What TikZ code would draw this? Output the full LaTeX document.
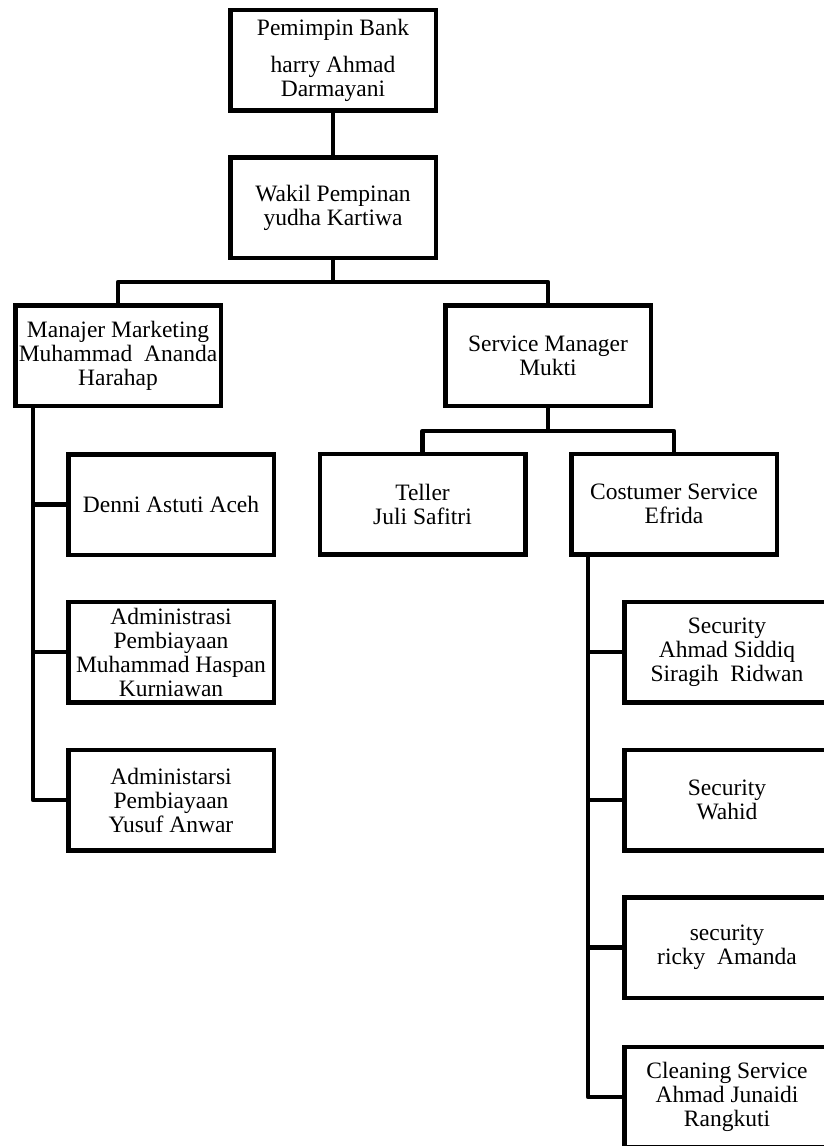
\documentclass[tikz,border=0pt]{standalone}
\usepackage{fontspec}
\setmainfont{Liberation Serif}
\usepackage{tikz}
\tikzset{
  every node/.style={
    text=black
  },
  jabatan/.style={
    draw, line width=4.5pt, rectangle, align=center,
    minimum width=205.5pt, minimum height=100.5pt, inner sep=2pt,
    font=\fontsize{23.5}{24}\selectfont
  },
  garis/.style={
    line width=4.5pt, line join=round
  }
}

\begin{document}
\begin{tikzpicture}[x=1pt, y=-1pt]
    \useasboundingbox (0,0) rectangle (824,1146);
    \clip (0,0) rectangle (824,1146);

    % top of the tree
    \node[jabatan] (pimpinan) at (333,60) {Pemimpin Bank\\[13pt]harry Ahmad\\Darmayani};
    \node[jabatan] (wakil) at (333,207.5) {Wakil Pempinan\\yudha Kartiwa};

    \node[jabatan] (marketing) at (118,355.5) {Manajer Marketing\\Muhammad\ \ Ananda\\Harahap};
    \node[jabatan] (servmgr) at (548,355.5) {Service Manager\\Mukti};

    \node[jabatan] (teller) at (422.5,504) {Teller\\Juli Safitri};
    \node[jabatan] (costumer) at (674,504) {Costumer Service\\Efrida};

    % marketing staff
    \node[jabatan] (denni) at (171,504.5) {Denni Astuti Aceh};
    \node[jabatan] (admin1) at (171,652) {Administrasi\\Pembiayaan\\Muhammad Haspan\\Kurniawan};
    \node[jabatan] (admin2) at (171,800) {Administarsi\\Pembiayaan\\Yusuf Anwar};

    % service staff
    \node[jabatan] (security1) at (727,652) {Security\\Ahmad Siddiq\\Siragih\ \ Ridwan};
    \node[jabatan] (security2) at (727,800) {Security\\Wahid};
    \node[jabatan] (security3) at (727,947.5) {security\\ricky\ \ Amanda};
    \node[jabatan] (cleaning) at (727,1097) {Cleaning Service\\Ahmad Junaidi\\Rangkuti};

    \draw [garis] (pimpinan) -- (wakil);

    \draw [garis] (wakil.south) -- ++(0,22) coordinate (bar1);
    \draw [garis] (marketing.north) |- (bar1) -| (servmgr.north);

    \draw [garis] (servmgr.south) -- ++(0,23) coordinate (bar2);
    \draw [garis] (teller.north) |- (bar2) -| (costumer.north);

    \coordinate (mline) at ([xshift=20pt]marketing.south west);
    \foreach \n in {denni, admin1, admin2}
        \draw [garis] (mline) |- (\n.west);

    \coordinate (cline) at ([xshift=19pt]costumer.south west);
    \foreach \n in {security1, security2, security3, cleaning}
        \draw [garis] (cline) |- (\n.west);
\end{tikzpicture}
\end{document}
